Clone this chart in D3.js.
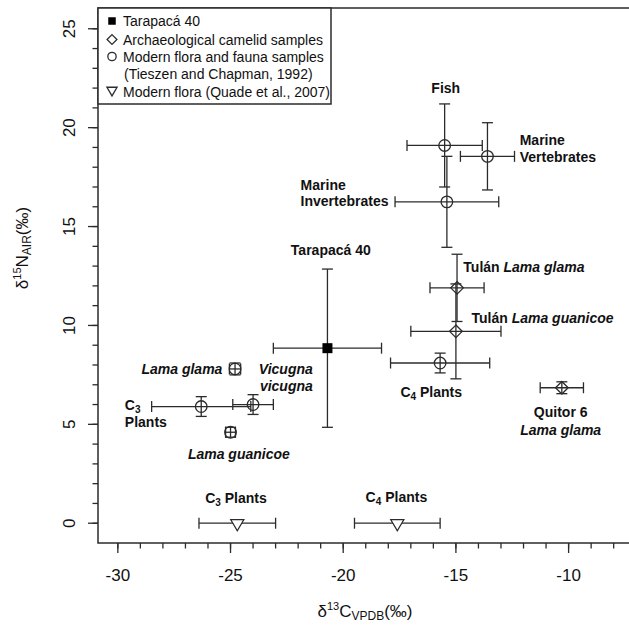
<!DOCTYPE html>
<html>
<head>
<meta charset="utf-8">
<script src="https://cdn.jsdelivr.net/npm/d3@7"></script>
<style>
  html, body { margin: 0; padding: 0; background: #fff; }
  svg { display: block; font-family: "Liberation Sans", Arial, Helvetica, sans-serif; }
</style>
</head>
<body>
<svg id="chart" width="629" height="625"></svg>
<script>
// ---- data ----
const names  = ["Tarapacá 40", "Fish", "Marine Vertebrates", "Marine Invertebrates",
                "Tulán Lama glama", "Tulán Lama guanicoe", "C4 Plants", "Quitor 6 Lama glama",
                "Lama glama", "Vicugna vicugna", "C3 Plants", "Lama guanicoe",
                "C3 Plants (Quade)", "C4 Plants (Quade)"];
const groups = ["tarapaca", "modern", "modern", "modern",
                "arch", "arch", "modern", "arch",
                "modern", "modern", "modern", "modern",
                "quade", "quade"];
const xMean = [-20.7, -15.5, -13.6, -15.4, -14.95, -15.0, -15.7, -10.3, -24.8, -24.0, -26.3, -25.0, -24.7, -17.6];
const xErr  = [2.4, 1.67, 1.2, 2.3, 1.2, 2.0, 2.2, 0.96, 0.25, 0.9, 2.2, 0.22, 1.7, 1.9];
const yMean = [8.85, 19.1, 18.55, 16.25, 11.9, 9.7, 8.1, 6.85, 7.8, 6.0, 5.9, 4.6, 0, 0];
const yErr  = [4.0, 2.1, 1.7, 2.3, 1.7, 2.4, 0.5, 0.3, 0.3, 0.5, 0.5, 0.25, 0, 0];

const xTicks = [-30, -25, -20, -15, -10];
const yTicks = [0, 5, 10, 15, 20, 25];
const xMinor = d3.range(-30, -7, 1);
const yMinor = d3.range(0, 26, 1);

const legendLabels = ["Tarapacá 40", "Archaeological camelid samples",
                      "Modern flora and fauna samples", "(Tieszen and Chapman, 1992)",
                      "Modern flora (Quade et al., 2007)"];
const legendSymbols = ["tarapaca", "arch", "modern", null, "quade"];

// annotation texts: parts [text, italic, subscript], anchor in data units
const annLines = [
  {x: -15.45, y: 22.0, a: "middle", parts: [["Fish"]]},
  {x: -12.17, y: 19.36, a: "start", parts: [["Marine"]]},
  {x: -12.17, y: 18.5, a: "start", parts: [["Vertebrates"]]},
  {x: -21.89, y: 17.11, a: "start", parts: [["Marine"]]},
  {x: -21.89, y: 16.27, a: "start", parts: [["Invertebrates"]]},
  {x: -20.55, y: 13.82, a: "middle", parts: [["Tarapacá 40"]]},
  {x: -14.67, y: 12.98, a: "start", parts: [["Tulán "], ["Lama glama", true]]},
  {x: -14.31, y: 10.36, a: "start", parts: [["Tulán "], ["Lama guanicoe", true]]},
  {x: -17.46, y: 6.65, a: "start", parts: [["C"], ["4", false, true], [" Plants"]]},
  {x: -10.35, y: 5.64, a: "middle", parts: [["Quitor 6"]]},
  {x: -10.35, y: 4.72, a: "middle", parts: [["Lama glama", true]]},
  {x: -25.36, y: 7.8, a: "end", parts: [["Lama glama", true]]},
  {x: -21.35, y: 7.8, a: "end", parts: [["Vicugna", true]]},
  {x: -21.35, y: 6.92, a: "end", parts: [["vicugna", true]]},
  {x: -29.69, y: 5.97, a: "start", parts: [["C"], ["3", false, true]]},
  {x: -29.69, y: 5.1, a: "start", parts: [["Plants"]]},
  {x: -24.63, y: 3.49, a: "middle", parts: [["Lama guanicoe", true]]},
  {x: -24.76, y: 1.3, a: "middle", parts: [["C"], ["3", false, true], [" Plants"]]},
  {x: -17.64, y: 1.32, a: "middle", parts: [["C"], ["4", false, true], [" Plants"]]}
];

// ---- layout ----
const L = 98, R = 629, T = 8, B = 543;
const x = d3.scaleLinear().domain([-30.88, -7.32]).range([L, R]);
const y = d3.scaleLinear().domain([-1, 26.05]).range([B, T]);
const ink = "#2b2b2b";
const svg = d3.select("#chart");

// frame
svg.append("rect").attr("x", L).attr("y", T).attr("width", R - L + 4).attr("height", B - T)
  .attr("fill", "none").attr("stroke", ink).attr("stroke-width", 1.5);

// ticks
const tk = svg.append("g").attr("stroke", ink).attr("stroke-width", 1.3);
tk.selectAll(".xm").data(xMinor).join("line")
  .attr("x1", d => x(d)).attr("x2", d => x(d)).attr("y1", B).attr("y2", B + 5.5);
tk.selectAll(".xM").data(xTicks).join("line")
  .attr("x1", d => x(d)).attr("x2", d => x(d)).attr("y1", B).attr("y2", B + 10);
tk.selectAll(".ym").data(yMinor).join("line")
  .attr("y1", d => y(d)).attr("y2", d => y(d)).attr("x1", L).attr("x2", L - 5.5);
tk.selectAll(".yM").data(yTicks).join("line")
  .attr("y1", d => y(d)).attr("y2", d => y(d)).attr("x1", L).attr("x2", L - 10);

svg.selectAll(".xl").data(xTicks).join("text")
  .attr("x", d => x(d)).attr("y", 575).attr("text-anchor", "middle")
  .attr("dominant-baseline", "central").attr("font-size", 17).attr("fill", "#111")
  .text(d => String(d));
svg.selectAll(".yl").data(yTicks).join("text")
  .attr("transform", d => `translate(69,${y(d)}) rotate(-90)`)
  .attr("text-anchor", "middle").attr("dominant-baseline", "central")
  .attr("font-size", 17).attr("fill", "#111").text(d => String(d));

// axis titles
const xt = svg.append("text").attr("x", 365).attr("y", 617).attr("text-anchor", "middle")
  .attr("font-size", 17).attr("fill", "#111");
xt.append("tspan").text("δ");
xt.append("tspan").attr("font-size", 11).attr("dy", -7).text("13");
xt.append("tspan").attr("dy", 7).text("C");
xt.append("tspan").attr("font-size", 12).attr("dy", 3).text("VPDB");
xt.append("tspan").attr("dy", -3).text("(‰)");

const yt = svg.append("text").attr("transform", "translate(28,248) rotate(-90)")
  .attr("text-anchor", "middle").attr("font-size", 17).attr("fill", "#111");
yt.append("tspan").text("δ");
yt.append("tspan").attr("font-size", 11).attr("dy", -7).text("15");
yt.append("tspan").attr("dy", 7).text("N");
yt.append("tspan").attr("font-size", 12).attr("dy", 3).text("AIR");
yt.append("tspan").attr("dy", -3).text("(‰)");

// error bars
const idx = d3.range(names.length);
const cap = 5.5;
const eb = svg.append("g").attr("stroke", ink).attr("stroke-width", 1.3).attr("fill", "none");
idx.forEach(i => {
  const cx = x(xMean[i]), cy = y(yMean[i]);
  if (xErr[i] > 0) {
    const x0 = x(xMean[i] - xErr[i]), x1 = x(xMean[i] + xErr[i]);
    eb.append("line").attr("x1", x0).attr("x2", x1).attr("y1", cy).attr("y2", cy);
    eb.append("line").attr("x1", x0).attr("x2", x0).attr("y1", cy - cap).attr("y2", cy + cap);
    eb.append("line").attr("x1", x1).attr("x2", x1).attr("y1", cy - cap).attr("y2", cy + cap);
  }
  if (yErr[i] > 0) {
    const y0 = y(yMean[i] - yErr[i]), y1 = y(yMean[i] + yErr[i]);
    eb.append("line").attr("x1", cx).attr("x2", cx).attr("y1", y0).attr("y2", y1);
    eb.append("line").attr("x1", cx - cap).attr("x2", cx + cap).attr("y1", y0).attr("y2", y0);
    eb.append("line").attr("x1", cx - cap).attr("x2", cx + cap).attr("y1", y1).attr("y2", y1);
  }
});

// symbols
function drawSymbol(g, type, cx, cy, s) {
  if (type === "tarapaca") {
    g.append("rect").attr("x", cx - 5 * s).attr("y", cy - 5 * s).attr("width", 10 * s).attr("height", 10 * s)
      .attr("fill", "#000");
  } else if (type === "modern") {
    g.append("circle").attr("cx", cx).attr("cy", cy).attr("r", 5.8 * s)
      .attr("fill", "none").attr("stroke", ink).attr("stroke-width", 1.3);
  } else if (type === "arch") {
    const r = 6.3 * s;
    g.append("path").attr("d", `M${cx},${cy - r}L${cx + r},${cy}L${cx},${cy + r}L${cx - r},${cy}Z`)
      .attr("fill", "none").attr("stroke", ink).attr("stroke-width", 1.3);
  } else if (type === "quade") {
    const w = 6.5 * s;
    g.append("path").attr("d", `M${cx - w},${cy - 3.5 * s}L${cx + w},${cy - 3.5 * s}L${cx},${cy + 7.5 * s}Z`)
      .attr("fill", "#fff").attr("stroke", ink).attr("stroke-width", 1.3);
  }
}
const sg = svg.append("g");
idx.forEach(i => drawSymbol(sg, groups[i], x(xMean[i]), y(yMean[i]), 1));

// annotations
const ag = svg.append("g").attr("font-size", 14).attr("font-weight", "bold").attr("fill", "#111");
annLines.forEach(a => {
  const t = ag.append("text").attr("x", x(a.x)).attr("y", y(a.y))
    .attr("text-anchor", a.a).attr("dominant-baseline", "central");
  let shifted = false;
  a.parts.forEach(p => {
    const ts = t.append("tspan").text(p[0]);
    if (p[1]) ts.attr("font-style", "italic");
    if (p[2]) { ts.attr("font-size", 10).attr("dy", 4); shifted = true; }
    else if (shifted) { ts.attr("dy", -4); shifted = false; }
  });
});

// legend
const lg = svg.append("g");
lg.append("rect").attr("x", L).attr("y", T).attr("width", 233).attr("height", 96)
  .attr("fill", "#fff").attr("stroke", ink).attr("stroke-width", 1.5);
const legY = [21, 39.5, 56.5, 74, 91.5];
legendLabels.forEach((lab, i) => {
  lg.append("text").attr("x", i === 3 ? 124 : 123).attr("y", legY[i])
    .attr("dominant-baseline", "central").attr("font-size", 14).attr("fill", "#111").text(lab);
  if (legendSymbols[i]) {
    const type = legendSymbols[i];
    drawSymbol(lg, type, 112, type === "quade" ? legY[i] - 1.5 : legY[i], type === "tarapaca" ? 0.75 : (type === "modern" ? 0.72 : 0.78));
  }
});
</script>
</body>
</html>
